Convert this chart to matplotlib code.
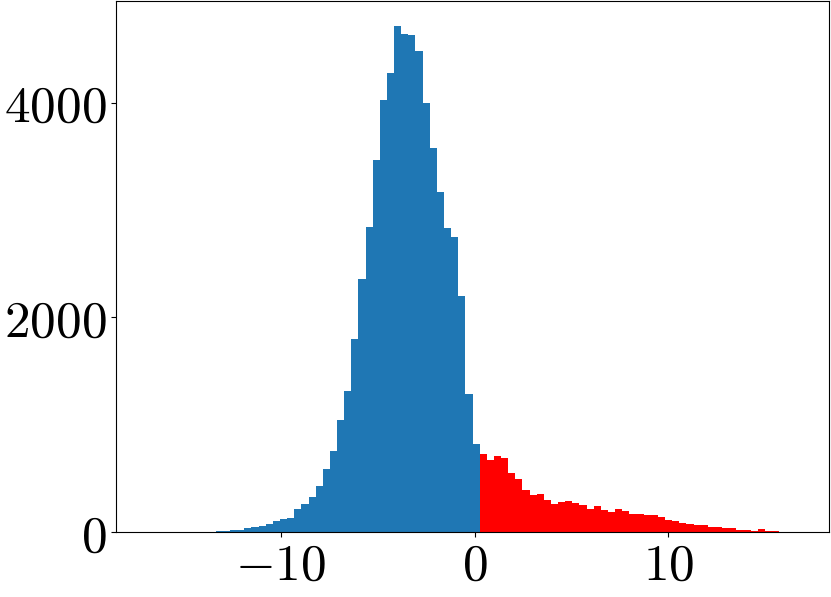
import matplotlib
matplotlib.use('Agg')
import matplotlib.pyplot as plt
from matplotlib.ticker import FuncFormatter
import numpy as np

# histogram: 100 equal bins, counts
bin_left = -18.51
bin_width = 0.368
n_bins = 100

counts_blue = [0, 0, 0, 0, 0, 0, 0, 0, 0, 0,
               1, 1, 2, 4, 6, 9, 19, 16, 34, 43,
               56, 77, 102, 121, 133, 214, 260, 322, 429, 588,
               758, 1043, 1315, 1794, 2357, 2845, 3466, 4025, 4272, 4709,
               4639, 4632, 4479, 3994, 3574, 3168, 2836, 2746, 2197, 1282,
               815]
counts_red = [729, 669, 708, 688, 545, 498, 390, 341, 350, 300,
              260, 276, 285, 270, 248, 211, 239, 202, 183, 211,
              198, 170, 164, 161, 158, 136, 108, 105, 87, 78,
              68, 62, 43, 43, 40, 34, 22, 22, 12, 28,
              6, 6, 4, 3, 2, 2, 1, 1, 1]

xticks = [-10, 0, 10]
yticks = [0, 2000, 4000]

plt.rcParams['mathtext.fontset'] = 'cm'
plt.rcParams['font.family'] = 'serif'
plt.rcParams['font.serif'] = ['DejaVu Serif']

edges = bin_left + bin_width * np.arange(n_bins + 1)
counts = np.array(counts_blue + counts_red, dtype=float)
centers = 0.5 * (edges[:-1] + edges[1:])

fig, ax = plt.subplots(figsize=(8.31, 5.97), dpi=100)
fig.subplots_adjust(left=0.1396, right=0.9976, top=0.998, bottom=0.1089)

n, bins, patches = ax.hist(centers, bins=edges, weights=counts, color='C0')
for i in range(len(counts_blue), n_bins):
    patches[i].set_facecolor('r')

ax.set_xlim(edges[0], edges[-1])
ax.set_xticks(xticks)
ax.set_yticks(yticks)
fmt = FuncFormatter(lambda v, pos: r'$%d$' % v)
ax.xaxis.set_major_formatter(fmt)
ax.yaxis.set_major_formatter(fmt)
ax.tick_params(labelsize=37)

fig.savefig('out.png', dpi=100)
